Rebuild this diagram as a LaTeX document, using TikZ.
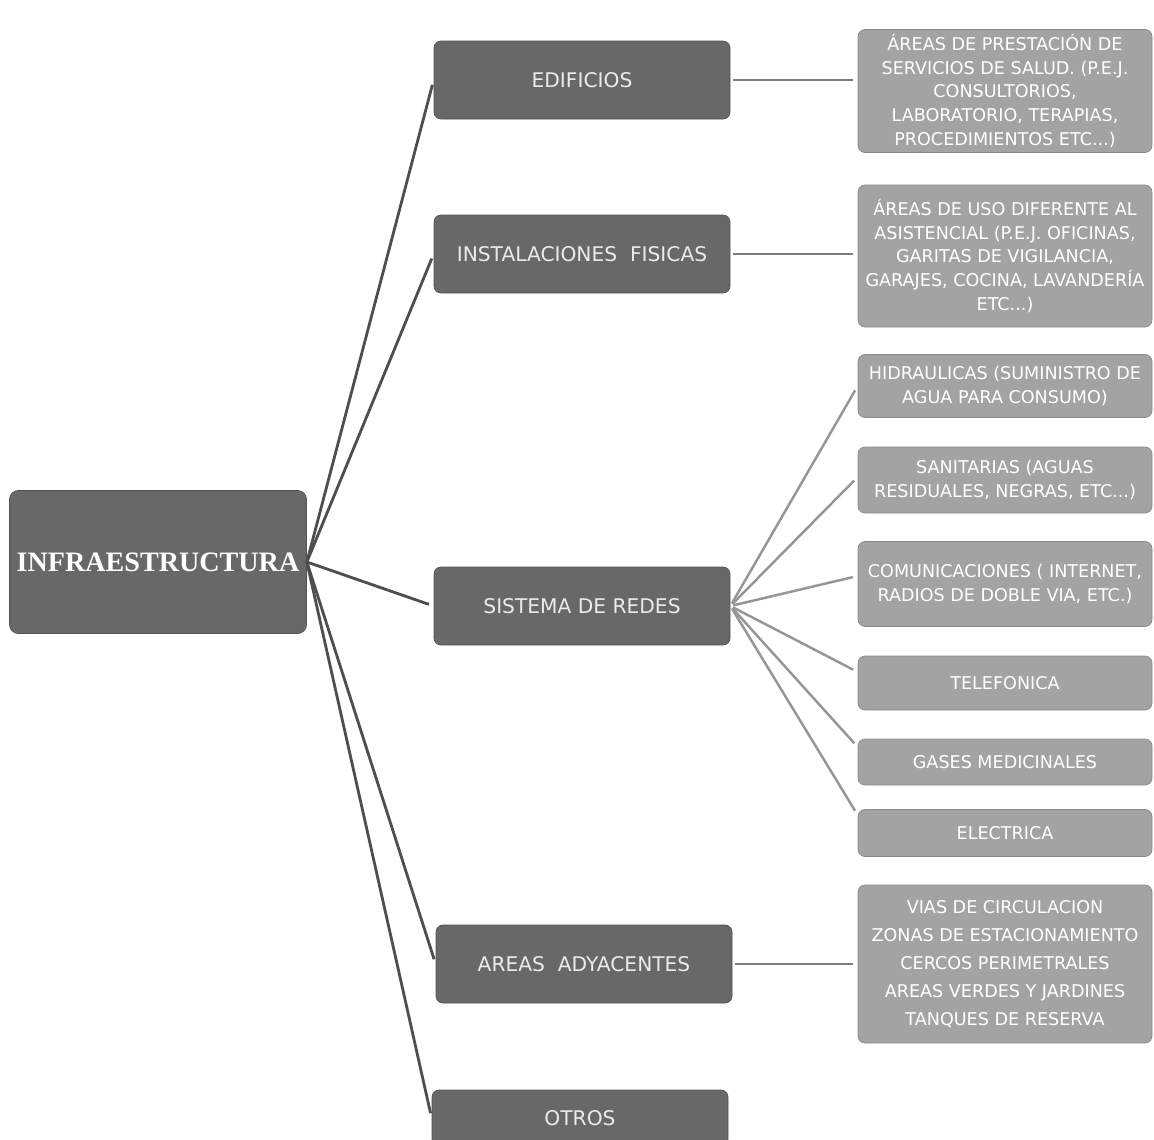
\documentclass[tikz,border=0pt]{standalone}
\usepackage{fontspec}
\setmainfont{DejaVu Sans}
\newfontfamily\titlefont{Liberation Serif}
\usetikzlibrary{positioning}
\definecolor{boxdark}{RGB}{104,104,104}
\definecolor{boxlight}{RGB}{163,163,163}
\definecolor{linkdark}{RGB}{78,78,78}
\definecolor{linkmid}{RGB}{125,125,125}
\definecolor{linklight}{RGB}{150,150,150}
\tikzset{
  rootbox/.style ={fill=boxdark, draw=boxdark!80!black, rounded corners=5pt,
                   minimum width=59.4mm, minimum height=28.6mm, text=white,
                   font=\titlefont\bfseries\fontsize{16}{18}\selectfont},
  mainbox/.style ={fill=boxdark, draw=boxdark!80!black, rounded corners=4pt,
                   minimum width=59.2mm, minimum height=15.6mm, text=white!92!black,
                   font=\fontsize{11.5}{14}\selectfont, inner sep=2pt},
  subbox/.style  ={fill=boxlight, draw=boxlight!85!black, rounded corners=4pt,
                   minimum width=58.8mm, text=white, align=center, inner sep=1pt,
                   font=\fontsize{10}{13.6}\selectfont},
  rootlink/.style={linkdark, line width=1.6pt, shorten >=1mm},
  sidelink/.style={linkmid, line width=1.6pt, shorten <=0.6mm, shorten >=1mm},
  redlink/.style ={linklight, line width=1.4pt, shorten <=0.6mm, shorten >=1mm},
}

\begin{document}
\begin{tikzpicture}[x=0.2mm, y=-0.2mm]
  \fill[white] (0,0) rectangle (1154,1140);
  \useasboundingbox (0,0) rectangle (1154,1140);

  % root
  \node[rootbox] (root) at (158,562) {INFRAESTRUCTURA};

  % second level
  \node[mainbox] (edif)  at (582,80)   {EDIFICIOS};
  \node[mainbox] (inst)  at (582,254)  {INSTALACIONES\ \ FISICAS};
  \node[mainbox] (redes) at (582,606)  {SISTEMA DE REDES};
  \node[mainbox] (adya)  at (584,964)  {AREAS\ \ ADYACENTES};
  \node[mainbox, minimum height=11.2mm] (otros) at (580,1118) {OTROS};

  % third level
  \node[subbox, minimum height=24.6mm] (prest) at (1005,91)
    {ÁREAS DE PRESTACIÓN DE\\SERVICIOS DE SALUD. (P.E.J.\\CONSULTORIOS,\\LABORATORIO, TERAPIAS,\\PROCEDIMIENTOS ETC...)};
  \node[subbox, minimum height=28.4mm] (uso) at (1005,256)
    {ÁREAS DE USO DIFERENTE AL\\ASISTENCIAL (P.E.J. OFICINAS,\\GARITAS DE VIGILANCIA,\\GARAJES, COCINA, LAVANDERÍA\\ETC...)};
  \node[subbox, minimum height=12.6mm] (hidr) at (1005,386)
    {HIDRAULICAS (SUMINISTRO DE\\AGUA PARA CONSUMO)};
  \node[subbox, minimum height=13.2mm] (sani) at (1005,480)
    {SANITARIAS (AGUAS\\RESIDUALES, NEGRAS, ETC...)};
  \node[subbox, minimum height=17mm] (comu) at (1005,584)
    {COMUNICACIONES ( INTERNET,\\RADIOS DE DOBLE VIA, ETC.)};
  \node[subbox, minimum height=10.8mm] (tele) at (1005,683) {TELEFONICA};
  \node[subbox, minimum height=9.2mm] (gases) at (1005,762) {GASES MEDICINALES};
  \node[subbox, minimum height=9.4mm] (elec) at (1005,833) {ELECTRICA};
  \node[subbox, minimum height=31.6mm, font=\fontsize{10}{15.9}\selectfont] (vias) at (1005,964)
    {VIAS DE CIRCULACION\\ZONAS DE ESTACIONAMIENTO\\CERCOS PERIMETRALES\\AREAS VERDES Y JARDINES\\TANQUES DE RESERVA};

  % links from the root
  \foreach \n in {edif,inst,redes,adya,otros}
    \draw[rootlink] (root.east) -- (\n.west);

  % side links
  \draw[sidelink] (edif.east) -- (edif.east -| prest.west);
  \draw[sidelink] (inst.east) -- (inst.east -| uso.west);
  \draw[sidelink] (adya.east) -- (adya.east -| vias.west);

  % fan of the network box
  \foreach \n/\s in {hidr/0mm, sani/0.6mm, comu/1.6mm, tele/2.2mm, gases/3mm, elec/3.6mm}
    \draw[redlink] (redes.east) -- ([yshift=\s]\n.west);
\end{tikzpicture}
\end{document}
